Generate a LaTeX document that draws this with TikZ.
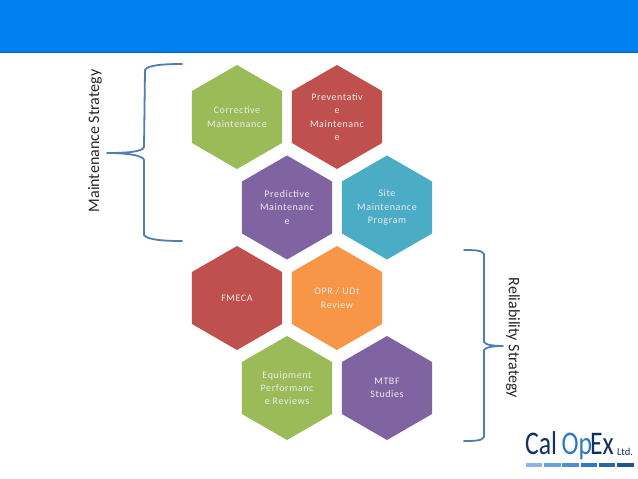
\documentclass[tikz,border=0pt]{standalone}
\usepackage{fontspec}
\setmainfont{Carlito}
\newfontfamily\hexfont[LetterSpace=6]{Carlito}
\usetikzlibrary{shapes.geometric}
\definecolor{headblue}{HTML}{0080F0}
\definecolor{hexgreen}{HTML}{9BBB59}
\definecolor{hexred}{HTML}{C0504D}
\definecolor{hexpurple}{HTML}{8064A2}
\definecolor{hexteal}{HTML}{4BACC6}
\definecolor{hexorange}{HTML}{F79646}
\definecolor{bracecol}{HTML}{4F7DB5}
\definecolor{logonavy}{HTML}{14305F}
\definecolor{logoblue}{HTML}{2F78C8}
\tikzset{
  every picture/.style={x=1pt,y=-1pt,line join=round,line cap=round},
  hex/.style={regular polygon,regular polygon sides=6,shape border rotate=30,minimum size=104pt,inner sep=0pt,outer sep=0pt,text=white!92!black,align=center,font=\hexfont\fontsize{10}{13.3}\selectfont},
  brace/.style={bracecol,line width=1.8pt},
  sidelabel/.style={font=\fontsize{16}{18}\selectfont,text=black!85},
  logotext/.style={anchor=base west,inner sep=0pt,font=\fontsize{33}{33}\selectfont,xscale=.78},
}
\begin{document}
\begin{tikzpicture}
\useasboundingbox (0,0) rectangle (638,479);
\fill[white] (0,0) rectangle (638,479);
% header
\fill[headblue] (0,0) rectangle (638,52.5);
\fill[headblue!75!black] (0,52) rectangle (638,53);
\fill[blue!30!cyan!8] (0,477.5) rectangle (638,479);
% hexagons
\node[hex,fill=hexgreen] (corrective) at (237,117) {Corrective\\Maintenance};
\node[hex,fill=hexred] (preventative) at (337,117) {Preventativ\\e\\Maintenanc\\e};
\node[hex,fill=hexpurple] (predictive) at (287,207.5) {Predictive\\Maintenanc\\e};
\node[hex,fill=hexteal] (site) at (387,207.5) {Site\\Maintenance\\Program};
\node[hex,fill=hexred] (fmeca) at (237,298) {FMECA};
\node[hex,fill=hexorange] (opr) at (337,298) {OPR / UDt\\Review};
\node[hex,fill=hexgreen] (equipment) at (287,388) {Equipment\\Performanc\\e Reviews};
\node[hex,fill=hexpurple] (mtbf) at (387,388) {MTBF\\Studies};
% braces
\draw[brace] (182,64) .. controls (165,64) and (147,65) .. (145,70) -- (144,147) .. controls (143,152) and (125,153) .. (107,153) .. controls (125,153) and (143,155) .. (144,160) -- (144,235) .. controls (147,240) and (165,241) .. (182,241);
\draw[brace] (464,250) .. controls (472,250) and (483,250) .. (484,254) -- (484,342) .. controls (485,345) and (495,346) .. (503,346) .. controls (495,346) and (485,347) .. (484,350) -- (484,437) .. controls (483,441) and (472,441) .. (464,441);
\node[sidelabel,rotate=90] (maintlabel) at (95,141) {Maintenance Strategy};
\node[sidelabel,rotate=-90] (rellabel) at (513,338) {Reliability Strategy};
% logo
\node[logotext,text=logonavy] (logocal) at (525,454) {Cal};
\node[logotext,text=logoblue] (logoop) at (561.5,454) {Op};
\node[logotext,text=logonavy] (logoex) at (590,454) {Ex};
\node[anchor=base west,inner sep=0pt,text=logonavy,font=\fontsize{10.5}{10.5}\selectfont] (logoltd) at (617,455) {Ltd.};
\fill[logoblue!55] (526,463) rectangle (542,467);
\fill[logoblue!70] (544,463) rectangle (561,467);
\fill[logoblue!85] (562,463) rectangle (579,467);
\fill[logoblue] (581,463) rectangle (597,467);
\fill[logoblue!85!black] (599,463) rectangle (615,467);
\fill[logoblue!70!black] (617,463) rectangle (634,467);
\end{tikzpicture}
\end{document}
